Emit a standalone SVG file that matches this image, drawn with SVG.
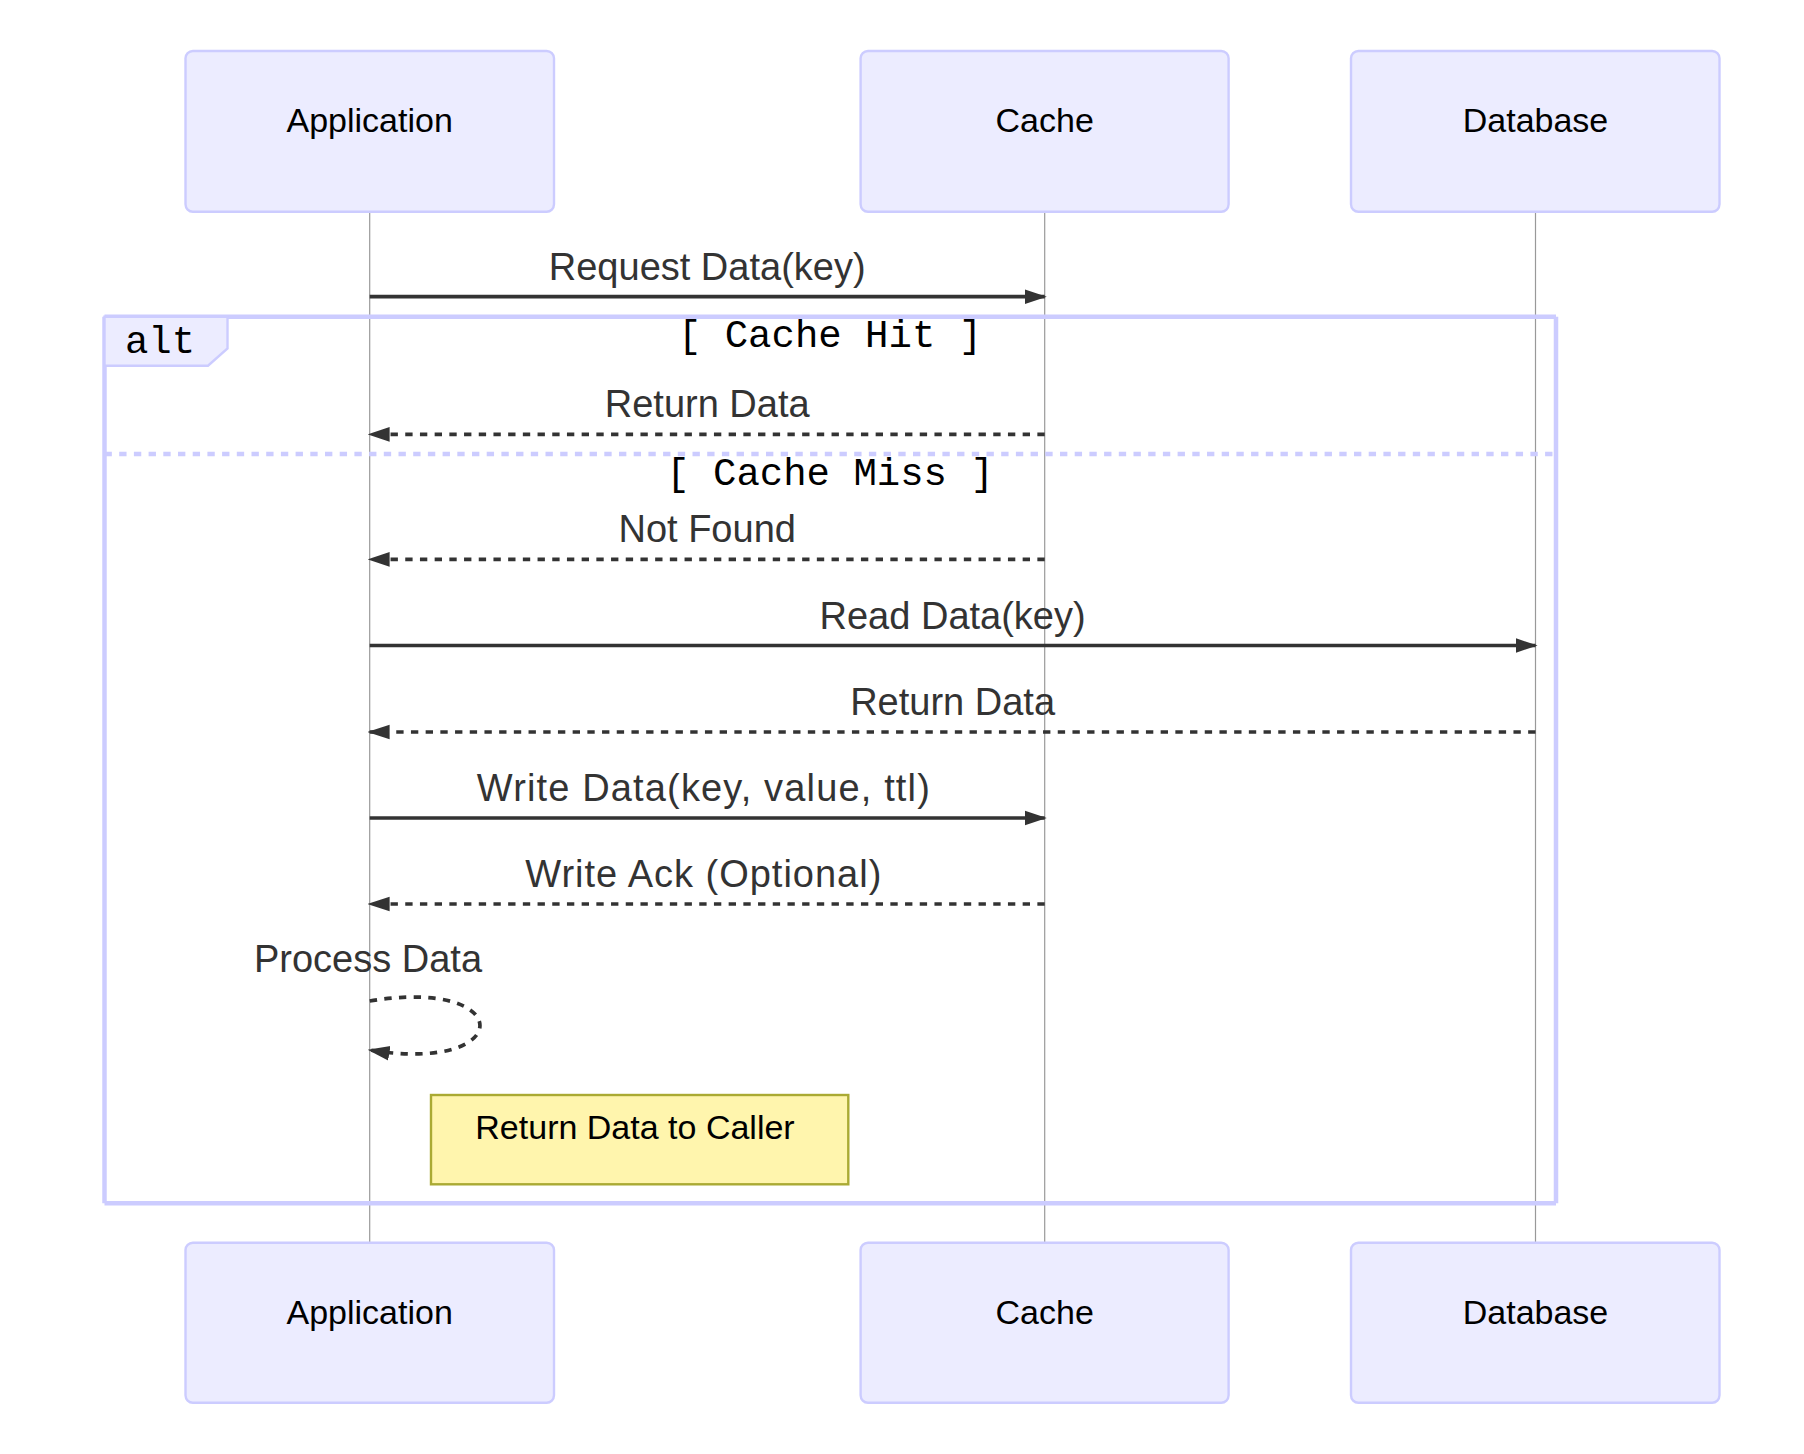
<svg xmlns="http://www.w3.org/2000/svg" width="1804" height="1454" viewBox="0 0 1804 1454">
<style>
.actor{fill:#ececff;stroke:#ccccff;stroke-width:2.4}
.actorText{font-family:"Liberation Sans",Arial,sans-serif;font-size:34px;fill:#000;text-anchor:middle}
.lifeline{stroke:#999;stroke-width:1.2}
.msg{stroke:#333;stroke-width:3.7;fill:none}
.dash{stroke-dasharray:7.35 7.35}
.msgText{font-family:"Liberation Sans",Arial,sans-serif;font-size:38px;fill:#333;text-anchor:middle}
.frame{stroke:#ccccff;stroke-width:4.5;fill:none}
.frameDash{stroke:#ccccff;stroke-width:4.5;stroke-dasharray:7.35 7.35}
.labelBox{fill:#ececff;stroke:#ccccff;stroke-width:2.4}
.mono{font-family:"Liberation Mono","Courier New",monospace;font-size:39px;fill:#000;text-anchor:middle}
.note{fill:#fff5ad;stroke:#aaaa33;stroke-width:2.4}
.noteText{font-family:"Liberation Sans",Arial,sans-serif;font-size:34px;fill:#000;text-anchor:middle}
</style>
<defs>
<marker id="arrow" markerUnits="userSpaceOnUse" markerWidth="22" markerHeight="16" viewBox="0 0 21 14" refX="19" refY="7" orient="auto">
<path d="M0,0 L21,7 L0,14 z" fill="#333" stroke="none"/>
</marker>
</defs>
<rect width="1804" height="1454" fill="#fff"/>

<g id="lifelines">
<line class="lifeline" x1="369.7" y1="211.7" x2="369.7" y2="1242.7"/>
<line class="lifeline" x1="1044.7" y1="211.7" x2="1044.7" y2="1242.7"/>
<line class="lifeline" x1="1535.5" y1="211.7" x2="1535.5" y2="1242.7"/>
</g>

<g id="actor-application-top">
<rect class="actor" x="185.5" y="51" width="368.5" height="160.7" rx="7.35" ry="7.35"/>
<text class="actorText" x="369.7" y="131.7">Application</text>
</g>
<g id="actor-cache-top">
<rect class="actor" x="860.6" y="51" width="368" height="160.7" rx="7.35" ry="7.35"/>
<text class="actorText" x="1044.7" y="131.7">Cache</text>
</g>
<g id="actor-database-top">
<rect class="actor" x="1351" y="51" width="368.5" height="160.7" rx="7.35" ry="7.35"/>
<text class="actorText" x="1535.5" y="131.7">Database</text>
</g>

<g id="alt-frame">
<line class="frame" x1="104.5" y1="316.7" x2="1556" y2="316.7"/>
<line class="frame" x1="1556" y1="316.7" x2="1556" y2="1203.3"/>
<line class="frame" x1="104.5" y1="1203.3" x2="1556" y2="1203.3"/>
<line class="frame" x1="104.5" y1="316.7" x2="104.5" y2="1203.3"/>
<line class="frameDash" x1="104.5" y1="454" x2="1556" y2="454"/>
<polygon class="labelBox" points="104.5,316.7 227.5,316.7 227.5,348.5 208,365.7 104.5,365.7"/>
<text class="mono" x="160" y="353.3">alt</text>
<text class="mono" x="830" y="346.7">[ Cache Hit ]</text>
<text class="mono" x="830" y="485">[ Cache Miss ]</text>
</g>

<g id="connectors">
<line class="msg" x1="369.7" y1="296.7" x2="1044.7" y2="296.7" marker-end="url(#arrow)"/>
<text class="msgText" x="707.2" y="280">Request Data(key)</text>

<line class="msg dash" x1="1044.7" y1="434.3" x2="369.7" y2="434.3" marker-end="url(#arrow)"/>
<text class="msgText" x="707.2" y="417.3">Return Data</text>

<line class="msg dash" x1="1044.7" y1="559.3" x2="369.7" y2="559.3" marker-end="url(#arrow)"/>
<text class="msgText" x="707.2" y="542">Not Found</text>

<line class="msg" x1="369.7" y1="645.5" x2="1535.5" y2="645.5" marker-end="url(#arrow)"/>
<text class="msgText" x="952.6" y="628.5">Read Data(key)</text>

<line class="msg dash" x1="1535.5" y1="732" x2="369.7" y2="732" marker-end="url(#arrow)"/>
<text class="msgText" x="952.6" y="715">Return Data</text>

<line class="msg" x1="369.7" y1="818" x2="1044.7" y2="818" marker-end="url(#arrow)"/>
<text class="msgText" x="703.3" y="801" textLength="453" lengthAdjust="spacing">Write Data(key, value, ttl)</text>

<line class="msg dash" x1="1044.7" y1="904" x2="369.7" y2="904" marker-end="url(#arrow)"/>
<text class="msgText" x="703.3" y="887" textLength="356" lengthAdjust="spacing">Write Ack (Optional)</text>

<path class="msg dash" d="M369.7,1001 C516.7,976.5 516.7,1074.5 369.7,1050" marker-end="url(#arrow)"/>
<text class="msgText" x="368" y="971.7">Process Data</text>
</g>

<g id="note-return">
<rect class="note" x="431" y="1095" width="417.3" height="89.3"/>
<text class="noteText" x="635" y="1139.3">Return Data to Caller</text>
</g>

<g id="actor-application-bottom">
<rect class="actor" x="185.5" y="1242.7" width="368.5" height="160" rx="7.35" ry="7.35"/>
<text class="actorText" x="369.7" y="1324">Application</text>
</g>
<g id="actor-cache-bottom">
<rect class="actor" x="860.6" y="1242.7" width="368" height="160" rx="7.35" ry="7.35"/>
<text class="actorText" x="1044.7" y="1324">Cache</text>
</g>
<g id="actor-database-bottom">
<rect class="actor" x="1351" y="1242.7" width="368.5" height="160" rx="7.35" ry="7.35"/>
<text class="actorText" x="1535.5" y="1324">Database</text>
</g>
</svg>
